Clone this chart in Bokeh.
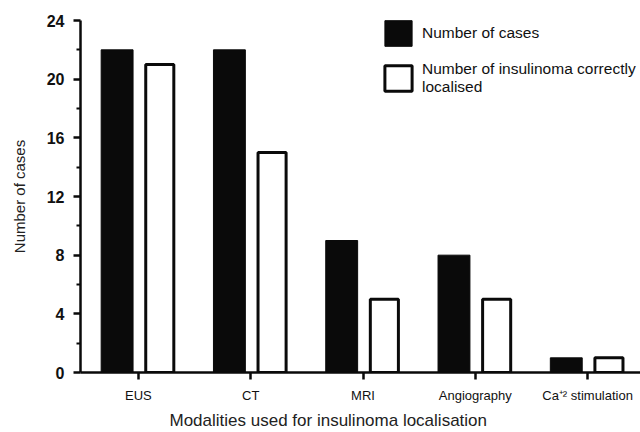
from bokeh.plotting import figure
from bokeh.models import (ColumnDataSource, Range1d, FixedTicker, Legend, LegendItem, Title)
from bokeh.transform import dodge
from bokeh.embed import file_html
from bokeh.resources import INLINE

categories = ["EUS", "CT", "MRI", "Angiography", "Ca\u207a\u00b2 stimulation"]
cases = [22, 22, 9, 8, 1]
correct = [21, 15, 5, 5, 1]
y_ticks = [0, 4, 8, 12, 16, 20, 24]
y_minor = [2, 6, 10, 14, 18, 22]

src = ColumnDataSource(dict(x=list(range(len(categories))), cases=cases, correct=correct))

p = figure(width=640, height=432, output_backend="svg", toolbar_location=None,
           x_range=Range1d(-0.516, 4.471), y_range=Range1d(0, 24),
           min_border_left=80, min_border_right=0, min_border_top=20, min_border_bottom=60)
p.outline_line_color = None
p.xgrid.grid_line_color = None
p.ygrid.grid_line_color = None

r1 = p.vbar(x=dodge("x", -0.19), top="cases", width=0.284, source=src,
            fill_color="#0a0a0a", line_color="#0a0a0a", line_width=1)
r2 = p.vbar(x=dodge("x", 0.19), top="correct", width=0.25, source=src,
            fill_color="white", line_color="#0a0a0a", line_width=3)

# x axis
xa = p.xaxis[0]
xa.ticker = FixedTicker(ticks=list(range(len(categories))))
xa.major_label_overrides = {i: c for i, c in enumerate(categories)}
xa.axis_line_width = 2.5
xa.axis_line_color = "#0a0a0a"
xa.major_tick_line_width = 2.5
xa.major_tick_line_color = "#0a0a0a"
xa.major_tick_out = 7
xa.major_tick_in = 0
xa.minor_tick_line_color = None
xa.major_label_text_font = "Liberation Sans"
xa.major_label_text_font_size = "13px"
xa.major_label_text_color = "#111111"
xa.major_label_standoff = 8

# y axis
ya = p.yaxis[0]
ya.ticker = FixedTicker(ticks=y_ticks, minor_ticks=y_minor)
ya.axis_line_width = 2.5
ya.axis_line_color = "#0a0a0a"
ya.major_tick_line_width = 2.5
ya.major_tick_line_color = "#0a0a0a"
ya.major_tick_out = 7
ya.major_tick_in = 0
ya.minor_tick_line_width = 2
ya.minor_tick_line_color = "#0a0a0a"
ya.minor_tick_out = 4
ya.minor_tick_in = 0
ya.major_label_text_font = "Liberation Sans"
ya.major_label_text_font_style = "bold"
ya.major_label_text_font_size = "16px"
ya.major_label_text_color = "#111111"
ya.major_label_standoff = 9
ya.axis_label = "Number of cases"
ya.axis_label_text_font = "Liberation Sans"
ya.axis_label_text_font_style = "normal"
ya.axis_label_text_font_size = "15px"
ya.axis_label_text_color = "#222222"
ya.axis_label_standoff = 16

t = Title(text="Modalities used for insulinoma localisation", align="left", offset=89,
          text_font="Liberation Sans", text_font_style="normal", text_font_size="17px",
          text_color="#222222", standoff=6)
p.add_layout(t, "below")

legend = Legend(items=[LegendItem(label="Number of cases", renderers=[r1]),
                       LegendItem(label="Number of insulinoma correctly\nlocalised", renderers=[r2])],
                location=(301, 276), padding=0, margin=0, spacing=11,
                glyph_width=34, glyph_height=32, label_standoff=7,
                label_text_font="Liberation Sans", label_text_font_size="15.5px",
                label_text_color="#111111", border_line_color=None,
                background_fill_alpha=0)
p.add_layout(legend)

open("out.html", "w").write(file_html(p, INLINE))
